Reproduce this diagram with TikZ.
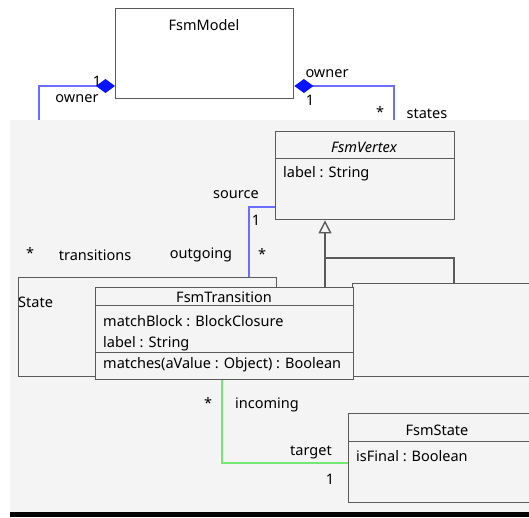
\documentclass[tikz,border=0pt]{standalone}
\usepackage{fontspec}
\setmainfont{Noto Sans}
\usetikzlibrary{arrows.meta,positioning}
\definecolor{bggray}{HTML}{F4F4F4}
\definecolor{boxgray}{HTML}{5A5A5A}
\definecolor{linkblue}{HTML}{6C6CFF}
\definecolor{diablue}{HTML}{0814FF}
\definecolor{linkgreen}{HTML}{74E874}

\begin{document}
\begin{tikzpicture}[
  x=1pt, y=-1pt,
  font=\fontsize{14.5}{17}\selectfont,
  classbox/.style={rectangle, draw=boxgray, line width=1.4pt, anchor=north west, inner sep=0pt},
  divider/.style={draw=boxgray, line width=1pt},
  title/.style={anchor=base, inner sep=0pt},
  attr/.style={anchor=base west, inner sep=0pt},
  role/.style={inner sep=0pt},
  owns/.style={draw=linkblue, line width=1.4pt, {Diamond[length=19pt,width=14pt,color=diablue,fill=diablue]}-},
  link/.style={draw=linkblue, line width=1.4pt},
  inherit/.style={draw=boxgray, line width=1.4pt, {Triangle[open,length=13pt,width=13pt]}-},
  incoming/.style={draw=linkgreen, line width=1.4pt}
]
\useasboundingbox (0,0) rectangle (529,517);
\clip (0,0) rectangle (529,517);

% Background
\fill[white] (0,0) rectangle (529,517);
\fill[bggray] (10,120) rectangle (529,512);
\fill[black] (10,512) rectangle (529,517);

% Classes
\node[classbox, minimum width=178pt, minimum height=90pt] (model) at (115,8) {};
\node[title] at (204,30) {FsmModel};

\node[classbox, minimum width=179pt, minimum height=88pt] (vertex) at (275,131) {};
\node[title] at (364,152) {\itshape FsmVertex};
\draw[divider] (vertex.west |- 0,158) -- (vertex.east |- 0,158);
\node[attr] at (283,177) {label : String};

\node[classbox, minimum width=258pt, minimum height=99pt] (oldtrans) at (18,277) {};
\node[attr] at (18,307) {State};

\node[classbox, minimum width=190pt, minimum height=93pt] (oldstate) at (352,283) {};

\node[classbox, fill=bggray, minimum width=258pt, minimum height=92pt] (trans) at (95,287) {};
\node[title] at (224,302) {FsmTransition};
\draw[divider] (trans.west |- 0,305) -- (trans.east |- 0,305);
\node[attr] at (103,326) {matchBlock : BlockClosure};
\node[attr] at (103,347) {label : String};
\draw[divider] (trans.west |- 0,352) -- (trans.east |- 0,352);
\node[attr] at (103,368) {matches(aValue : Object) : Boolean};

\node[classbox, minimum width=190pt, minimum height=89pt] (state) at (348,413) {};
\node[title] at (437,435) {FsmState};
\draw[divider] (state.west |- 0,441) -- (state.east |- 0,441);
\node[attr] at (356,461) {isFinal : Boolean};

% Compositions
\coordinate (transend) at (39,120);
\coordinate (statesend) at (394,120);
\draw[owns] (model.west |- 0,86) -| (transend);
\draw[owns] (model.east |- 0,86) -| (statesend);
\node[role] at (97,81) {1};
\node[role] at (77,99) {owner};
\node[role] at (327,74) {owner};
\node[role] at (310,100) {1};
\node[role] at (380,112) {*};
\node[role] at (427,114) {states};

% Source association
\draw[link] (vertex.west |- 0,207) -| (oldtrans.north -| 249,0);
\node[role] at (236,195) {source};
\node[role] at (256,220) {1};
\node[role] at (262,254) {*};
\node[role] at (201,255) {outgoing};
\node[role] at (95,255) {transitions};
\node[role] at (30,253) {*};

% Generalization
\coordinate (genfork) at (325,258);
\draw[inherit] (vertex.south -| genfork) -- (genfork) -| (oldstate.north -| 454,0);
\draw[divider, line width=1.4pt] (genfork) -- (trans.north -| genfork);

% Target association
\draw[incoming] (trans.south -| 222,0) |- (state.west |- 0,463);
\node[role] at (208,403) {*};
\node[role] at (267,405) {incoming};
\node[role] at (311,452) {target};
\node[role] at (330,479) {1};

\end{tikzpicture}
\end{document}
